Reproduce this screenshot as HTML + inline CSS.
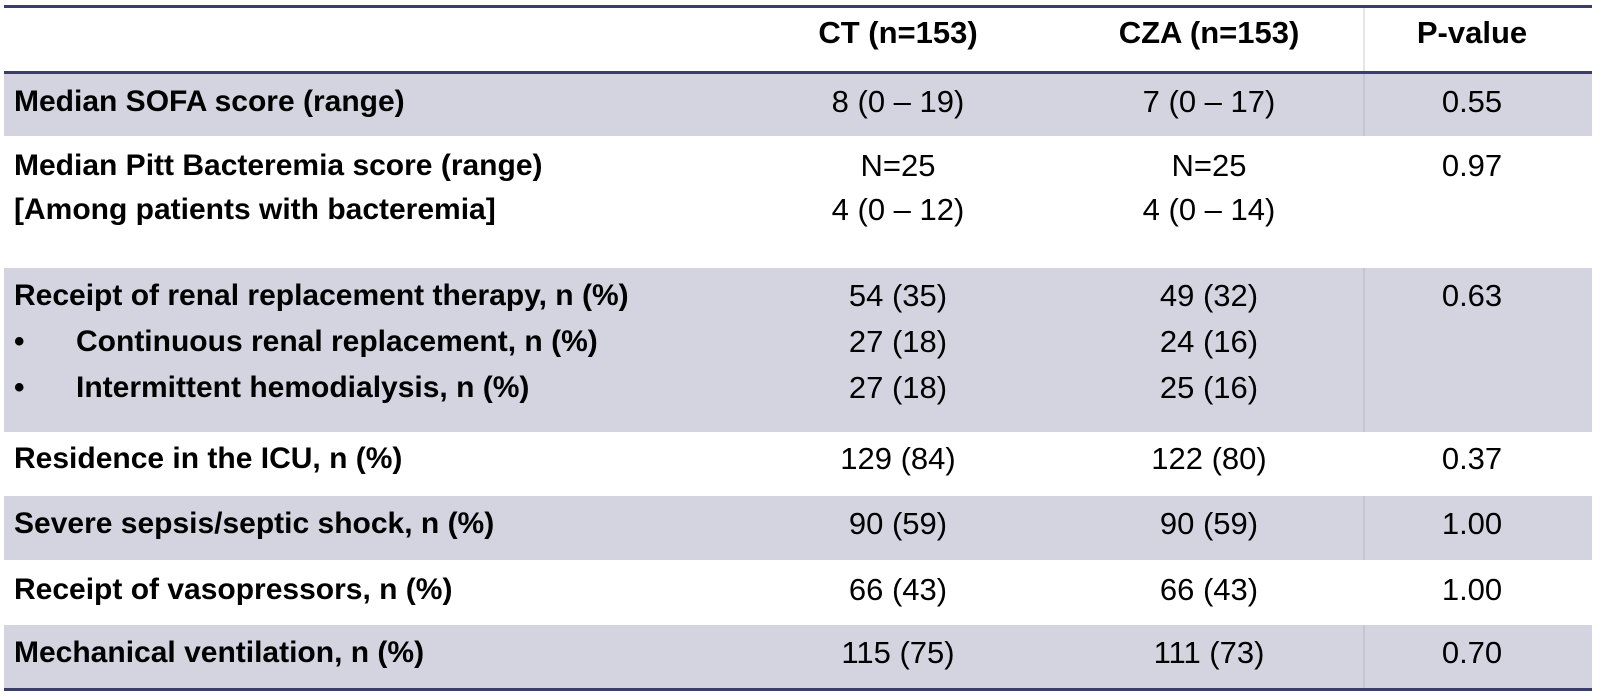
<!DOCTYPE html>
<html><head><meta charset="utf-8"><style>
body{margin:0;width:1600px;height:698px;background:#fff;position:relative;overflow:hidden;font-family:"Liberation Sans",sans-serif;font-size:30px;color:#000}
.r{position:absolute;left:4px;width:1588px}
.s{background:#d4d4e0}
.l{position:absolute;height:3px;left:4px;width:1588px;background:#3b3e6b}
.t{position:absolute;white-space:nowrap;line-height:30px}
.b{font-weight:bold}
.c{transform:translateX(-50%);font-size:31px}
.v{position:absolute;left:1363px;width:2px;background:#c4c4d2}
</style></head><body>
<div class="r s" style="top:73px;height:63px"></div>
<div class="r s" style="top:268px;height:164px"></div>
<div class="r s" style="top:496px;height:64px"></div>
<div class="r s" style="top:625px;height:63px"></div>
<div class="v" style="top:73px;height:63px"></div>
<div class="v" style="top:268px;height:164px"></div>
<div class="v" style="top:496px;height:64px"></div>
<div class="v" style="top:625px;height:63px"></div>
<div class="v" style="top:6px;height:65px;background:#e4e4ec"></div>
<div class="l" style="top:5px"></div>
<div class="l" style="top:71px"></div>
<div class="l" style="top:688px"></div>

<div class="t b c" style="left:898px;top:18px">CT (n=153)</div>
<div class="t b c" style="left:1209px;top:18px">CZA (n=153)</div>
<div class="t b c" style="left:1472px;top:18px">P-value</div>

<div class="t b" style="left:14px;top:87px">Median SOFA score (range)</div>
<div class="t c" style="left:898px;top:87px">8 (0 – 19)</div>
<div class="t c" style="left:1209px;top:87px">7 (0 – 17)</div>
<div class="t c" style="left:1472px;top:87px">0.55</div>

<div class="t b" style="left:14px;top:151px">Median Pitt Bacteremia score (range)</div>
<div class="t b" style="left:14px;top:195px">[Among patients with bacteremia]</div>
<div class="t c" style="left:898px;top:151px">N=25</div>
<div class="t c" style="left:898px;top:195px">4 (0 – 12)</div>
<div class="t c" style="left:1209px;top:151px">N=25</div>
<div class="t c" style="left:1209px;top:195px">4 (0 – 14)</div>
<div class="t c" style="left:1472px;top:151px">0.97</div>

<div class="t b" style="left:14px;top:281px">Receipt of renal replacement therapy, n (%)</div>
<div class="t b" style="left:14px;top:327px">•</div>
<div class="t b" style="left:76px;top:327px">Continuous renal replacement, n (%)</div>
<div class="t b" style="left:14px;top:373px">•</div>
<div class="t b" style="left:76px;top:373px">Intermittent hemodialysis, n (%)</div>
<div class="t c" style="left:898px;top:281px">54 (35)</div>
<div class="t c" style="left:898px;top:327px">27 (18)</div>
<div class="t c" style="left:898px;top:373px">27 (18)</div>
<div class="t c" style="left:1209px;top:281px">49 (32)</div>
<div class="t c" style="left:1209px;top:327px">24 (16)</div>
<div class="t c" style="left:1209px;top:373px">25 (16)</div>
<div class="t c" style="left:1472px;top:281px">0.63</div>

<div class="t b" style="left:14px;top:444px">Residence in the ICU, n (%)</div>
<div class="t c" style="left:898px;top:444px">129 (84)</div>
<div class="t c" style="left:1209px;top:444px">122 (80)</div>
<div class="t c" style="left:1472px;top:444px">0.37</div>

<div class="t b" style="left:14px;top:509px">Severe sepsis/septic shock, n (%)</div>
<div class="t c" style="left:898px;top:509px">90 (59)</div>
<div class="t c" style="left:1209px;top:509px">90 (59)</div>
<div class="t c" style="left:1472px;top:509px">1.00</div>

<div class="t b" style="left:14px;top:575px">Receipt of vasopressors, n (%)</div>
<div class="t c" style="left:898px;top:575px">66 (43)</div>
<div class="t c" style="left:1209px;top:575px">66 (43)</div>
<div class="t c" style="left:1472px;top:575px">1.00</div>

<div class="t b" style="left:14px;top:638px">Mechanical ventilation, n (%)</div>
<div class="t c" style="left:898px;top:638px">115 (75)</div>
<div class="t c" style="left:1209px;top:638px">111 (73)</div>
<div class="t c" style="left:1472px;top:638px">0.70</div>
</body></html>
